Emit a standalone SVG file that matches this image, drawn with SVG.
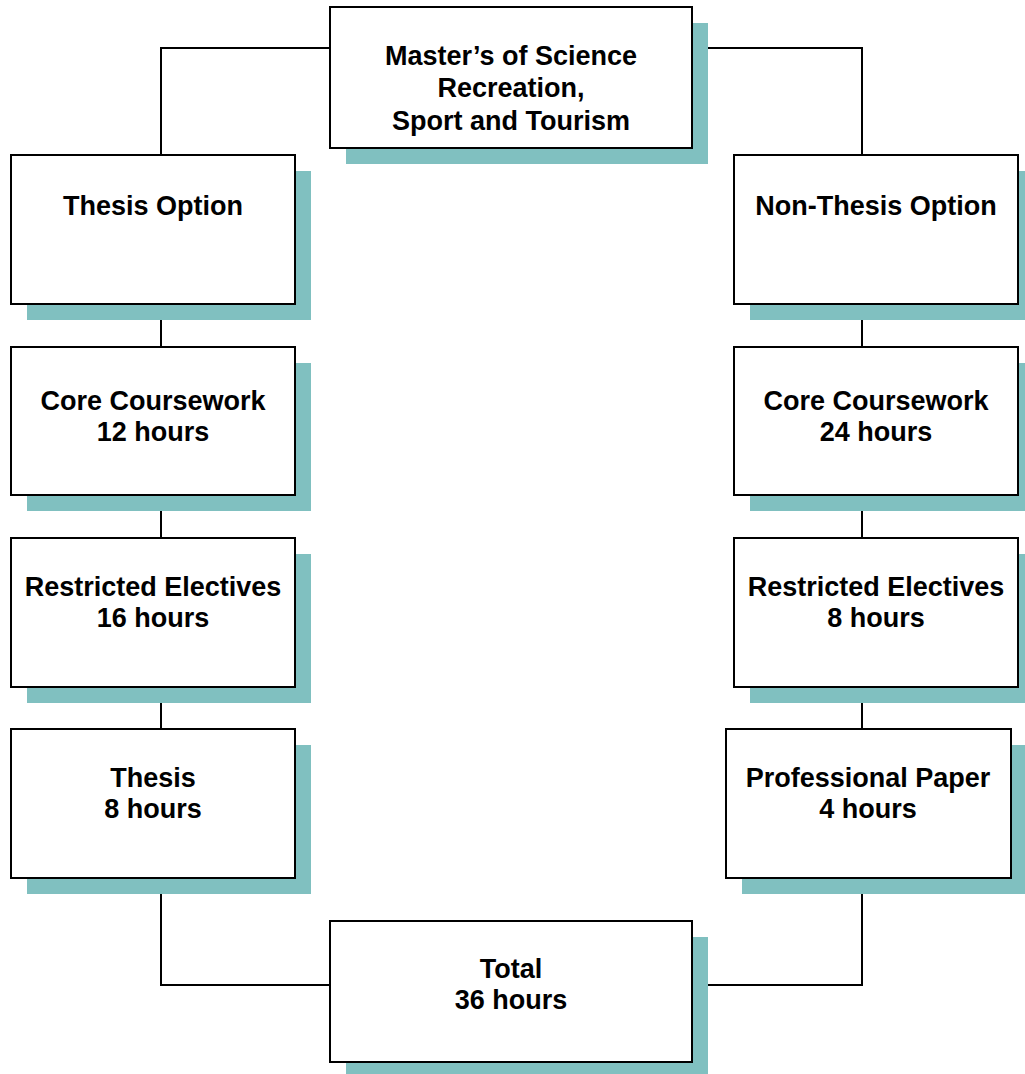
<svg xmlns="http://www.w3.org/2000/svg" width="1025" height="1074" viewBox="0 0 1025 1074">
<style>
.sh{fill:#80c0c0}
.bx{fill:#fff;stroke:#000;stroke-width:2}
.t{font-family:"Liberation Sans",Arial,sans-serif;font-weight:bold;font-size:27px;text-anchor:middle;fill:#000}
.c{fill:none;stroke:#000;stroke-width:2}
</style>
<rect width="1025" height="1074" fill="#fff"/>
<g id="connectors">
<polyline class="c" points="330,48 161,48 161,155"/>
<polyline class="c" points="692,48 862,48 862,155"/>
<line class="c" x1="161" y1="304" x2="161" y2="347"/>
<line class="c" x1="161" y1="495" x2="161" y2="538"/>
<line class="c" x1="161" y1="687" x2="161" y2="729"/>
<polyline class="c" points="161,878 161,985 330,985"/>
<line class="c" x1="862" y1="304" x2="862" y2="347"/>
<line class="c" x1="862" y1="495" x2="862" y2="538"/>
<line class="c" x1="862" y1="687" x2="862" y2="729"/>
<polyline class="c" points="862,878 862,985 692,985"/>
</g>
<g id="master">
<rect class="sh" x="346" y="23" width="362" height="141"/>
<rect class="bx" x="330" y="7" width="362" height="141"/>
<text class="t" x="511" y="65">Master’s of Science</text>
<text class="t" x="511" y="97">Recreation,</text>
<text class="t" x="511" y="130">Sport and Tourism</text>
</g>
<g id="thesis-option">
<rect class="sh" x="27" y="171" width="284" height="149"/>
<rect class="bx" x="11" y="155" width="284" height="149"/>
<text class="t" x="153" y="215">Thesis Option</text>
</g>
<g id="core-12">
<rect class="sh" x="27" y="363" width="284" height="148"/>
<rect class="bx" x="11" y="347" width="284" height="148"/>
<text class="t" x="153" y="410">Core Coursework</text>
<text class="t" x="153" y="441">12 hours</text>
</g>
<g id="restricted-16">
<rect class="sh" x="27" y="554" width="284" height="149"/>
<rect class="bx" x="11" y="538" width="284" height="149"/>
<text class="t" x="153" y="596">Restricted Electives</text>
<text class="t" x="153" y="627">16 hours</text>
</g>
<g id="thesis-8">
<rect class="sh" x="27" y="745" width="284" height="149"/>
<rect class="bx" x="11" y="729" width="284" height="149"/>
<text class="t" x="153" y="787">Thesis</text>
<text class="t" x="153" y="818">8 hours</text>
</g>
<g id="non-thesis-option">
<rect class="sh" x="750" y="171" width="284" height="149"/>
<rect class="bx" x="734" y="155" width="284" height="149"/>
<text class="t" x="876" y="215">Non-Thesis Option</text>
</g>
<g id="core-24">
<rect class="sh" x="750" y="363" width="284" height="148"/>
<rect class="bx" x="734" y="347" width="284" height="148"/>
<text class="t" x="876" y="410">Core Coursework</text>
<text class="t" x="876" y="441">24 hours</text>
</g>
<g id="restricted-8">
<rect class="sh" x="750" y="554" width="284" height="149"/>
<rect class="bx" x="734" y="538" width="284" height="149"/>
<text class="t" x="876" y="596">Restricted Electives</text>
<text class="t" x="876" y="627">8 hours</text>
</g>
<g id="professional-paper">
<rect class="sh" x="742" y="745" width="285" height="149"/>
<rect class="bx" x="726" y="729" width="285" height="149"/>
<text class="t" x="868" y="787">Professional Paper</text>
<text class="t" x="868" y="818">4 hours</text>
</g>
<g id="total">
<rect class="sh" x="346" y="937" width="362" height="141"/>
<rect class="bx" x="330" y="921" width="362" height="141"/>
<text class="t" x="511" y="978">Total</text>
<text class="t" x="511" y="1009">36 hours</text>
</g>
</svg>
